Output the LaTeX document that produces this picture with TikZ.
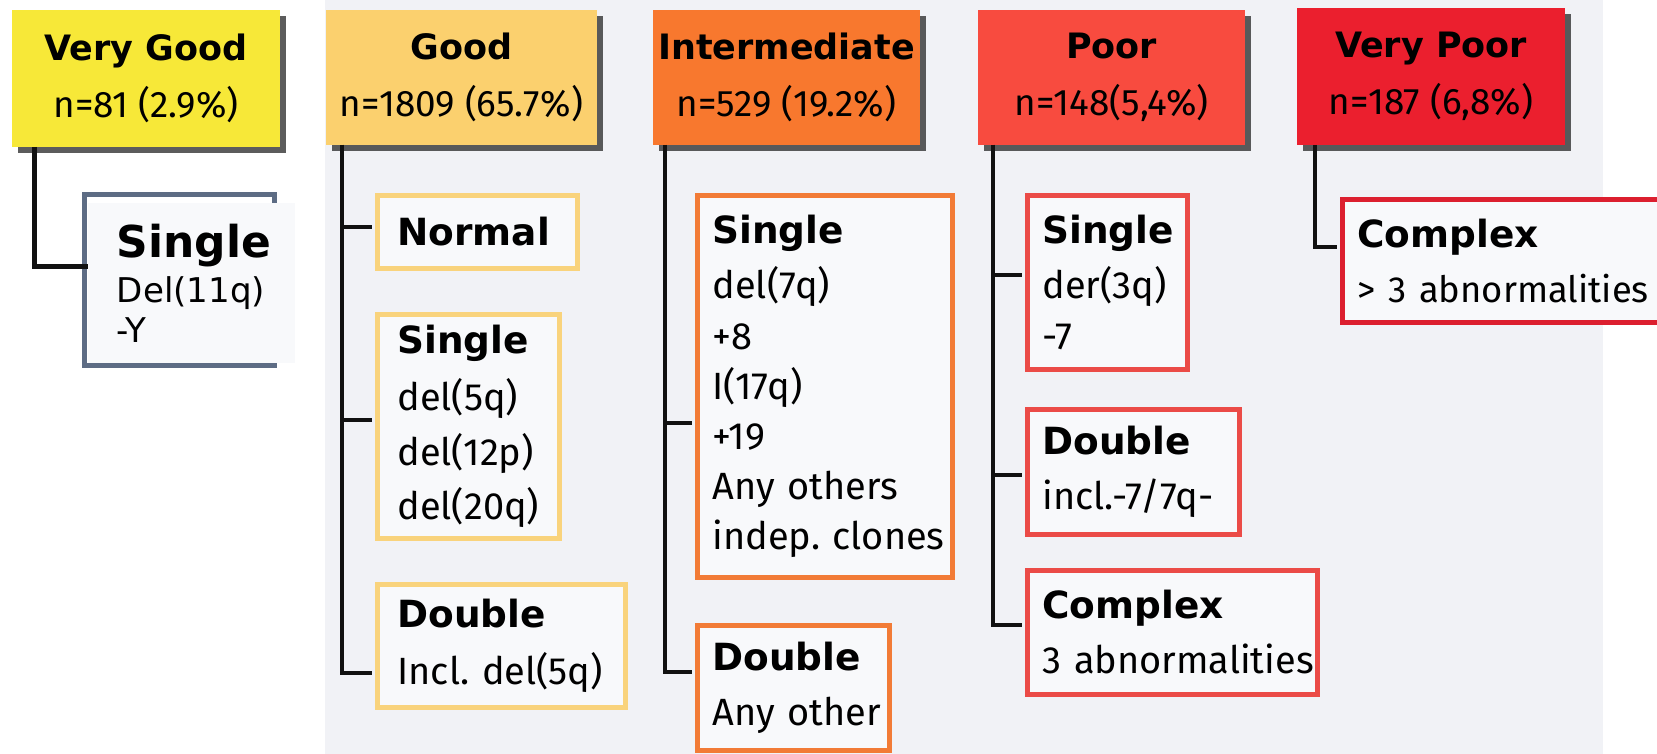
\documentclass[tikz,border=0pt]{standalone}
\usepackage{fontspec}
\setmainfont{Fira Sans}
\newfontfamily\hfont{DejaVu Sans}
\usetikzlibrary{shadows}
\hyphenpenalty=10000
\exhyphenpenalty=10000
\definecolor{vgY}{RGB}{247,232,56}
\definecolor{gO}{RGB}{251,208,110}
\definecolor{iO}{RGB}{248,120,46}
\definecolor{pR}{RGB}{248,75,63}
\definecolor{vpR}{RGB}{235,31,46}
\definecolor{gB}{RGB}{249,211,124}
\definecolor{iB}{RGB}{242,123,54}
\definecolor{pB}{RGB}{235,75,71}
\definecolor{vpB}{RGB}{220,31,47}
\definecolor{vgsB}{RGB}{93,108,132}
\definecolor{boxfill}{RGB}{248,249,251}
\definecolor{bggray}{RGB}{241,242,246}
\definecolor{connc}{RGB}{17,17,17}
\newcommand\hb{\hfont\bfseries\fontsize{19.9pt}{32.4pt}\selectfont}
\newcommand\sbt{\hfont\bfseries\fontsize{21.3pt}{28.5pt}\selectfont}
\begin{document}
\begin{tikzpicture}[x=0.02cm,y=-0.02cm,
  hdr/.style={fill=#1, anchor=north west, inner sep=0pt, outer sep=0pt,
    align=center, text=black,
    drop shadow={shadow xshift=0.12cm, shadow yshift=-0.12cm, fill=black!85, opacity=0.75},
    font=\fontsize{21pt}{32.4pt}\selectfont},
  sub/.style={draw=#1, line width=0.1cm, fill=boxfill, anchor=north west,
    align=left, inner ysep=0pt, inner xsep=0.3cm,
    font=\fontsize{21.6pt}{28.5pt}\selectfont},
  conn/.style={draw=connc, line width=0.07cm, shorten >=0.06cm}
]
\useasboundingbox (0,0) rectangle (1657,754);
\clip (0,0) rectangle (1657,754);
\fill[white] (0,0) rectangle (1657,754);
\fill[bggray] (325,0) rectangle (1603,754);

% headers
\node[hdr=vgY, minimum width=5.36cm, minimum height=2.74cm] (VG) at (12,10)
  {{\hb Very Good}\\n=81 (2.9\%)};
\node[hdr=gO, minimum width=5.42cm, minimum height=2.7cm] (G) at (326,10)
  {{\hb Good}\\n=1809 (65.7\%)};
\node[hdr=iO, minimum width=5.34cm, minimum height=2.7cm] (I) at (653,10)
  {{\hb Intermediate}\\n=529 (19.2\%)};
\node[hdr=pR, minimum width=5.34cm, minimum height=2.7cm] (P) at (978,10)
  {{\hb Poor}\\n=148(5,4\%)};
\node[hdr=vpR, minimum width=5.36cm, minimum height=2.74cm] (VP) at (1297,8)
  {{\hb Very Poor}\\n=187 (6,8\%)};

% very good single box
\draw[line width=0.1cm, draw=vgsB] (84.5,194.5) rectangle (274.5,365.5);
\node[fill=boxfill, anchor=north west, inner ysep=0pt, inner xsep=0.58cm, outer sep=0pt,
  minimum width=4.14cm, minimum height=3.2cm, text width=2.98cm, align=left,
  font=\hfont\fontsize{19.4pt}{22.8pt}\selectfont] (vgs) at (88,203)
  {{\bfseries\fontsize{25pt}{22.8pt}\selectfont Single}\\[2.8pt]Del(11q)\\-Y};

% good column
\node[sub=gB, inner xsep=0.4cm, minimum width=4.0cm, minimum height=1.46cm, text width=3.2cm] (gn) at (375,193)
  {{\sbt Normal}};
\node[sub=gB, inner xsep=0.4cm, minimum width=3.64cm, minimum height=4.48cm, text width=2.84cm,
  font=\fontsize{21.6pt}{31pt}\selectfont] (gs) at (375,312)
  {{\hfont\bfseries\fontsize{21.3pt}{31pt}\selectfont Single}\\[1.5pt]del(5q)\\del(12p)\\del(20q)};
\node[sub=gB, inner xsep=0.4cm, minimum width=4.96cm, minimum height=2.46cm, text width=4.16cm] (gd) at (375,582)
  {{\sbt Double}\\[4pt]Incl.~del(5q)};

% intermediate column
\node[sub=iB, minimum width=5.1cm, minimum height=7.64cm, text width=4.5cm] (is) at (695,193)
  {{\sbt Single}\\[2.8pt]del(7q)\\+8\\I(17q)\\+19\\Any~others\\indep.~clones};
\node[sub=iB, minimum width=3.84cm, minimum height=2.5cm, text width=3.24cm] (id) at (695,623)
  {{\sbt Double}\\[2.8pt]Any~other};

% poor column
\node[sub=pB, minimum width=3.2cm, minimum height=3.48cm, text width=2.6cm] (ps) at (1025,193)
  {{\sbt Single}\\[2.8pt]der(3q)\\-7};
\node[sub=pB, minimum width=4.24cm, minimum height=2.5cm, text width=3.64cm] (pd) at (1025,407)
  {{\sbt Double}\\[2.8pt]incl.-7/7q-};
\node[sub=pB, minimum width=5.8cm, minimum height=2.48cm, text width=5.2cm] (pc) at (1025,568)
  {{\sbt Complex}\\[2.8pt]3~abnormalities};

% very poor column
\node[sub=vpB, minimum width=6.7cm, minimum height=2.46cm, text width=6.1cm] (vpc) at (1340,197)
  {{\sbt Complex}\\[2.8pt]{\fontsize{20.7pt}{28.5pt}\selectfont >~3~abnormalities}};

% connectors
\draw[conn, line width=0.1cm, shorten >=0pt] ([xshift=0.46cm]VG.south west) |- ([yshift=0.32cm]vgs.west);

\draw[conn] ([xshift=0.32cm]G.south west) |- ([yshift=-0.54cm]gd.west);
\draw[conn] ([xshift=0.32cm]G.south west) |- ([yshift=0.1cm]gn.west);
\draw[conn] ([xshift=0.32cm]G.south west) |- ([yshift=0.13cm]gs.west);

\draw[conn] ([xshift=0.24cm]I.south west) |- ([yshift=0.32cm]id.west);
\draw[conn] ([xshift=0.24cm]I.south west) |- ([yshift=-0.73cm]is.west);

\draw[conn] ([xshift=0.3cm]P.south west) |- ([yshift=0.15cm]pc.west);
\draw[conn] ([xshift=0.3cm]P.south west) |- ([yshift=0.15cm]ps.west);
\draw[conn] ([xshift=0.3cm]P.south west) |- ([yshift=-0.06cm]pd.west);

\draw[conn] ([xshift=0.36cm]VP.south west) |- ([yshift=0.28cm]vpc.west);
\end{tikzpicture}
\end{document}
